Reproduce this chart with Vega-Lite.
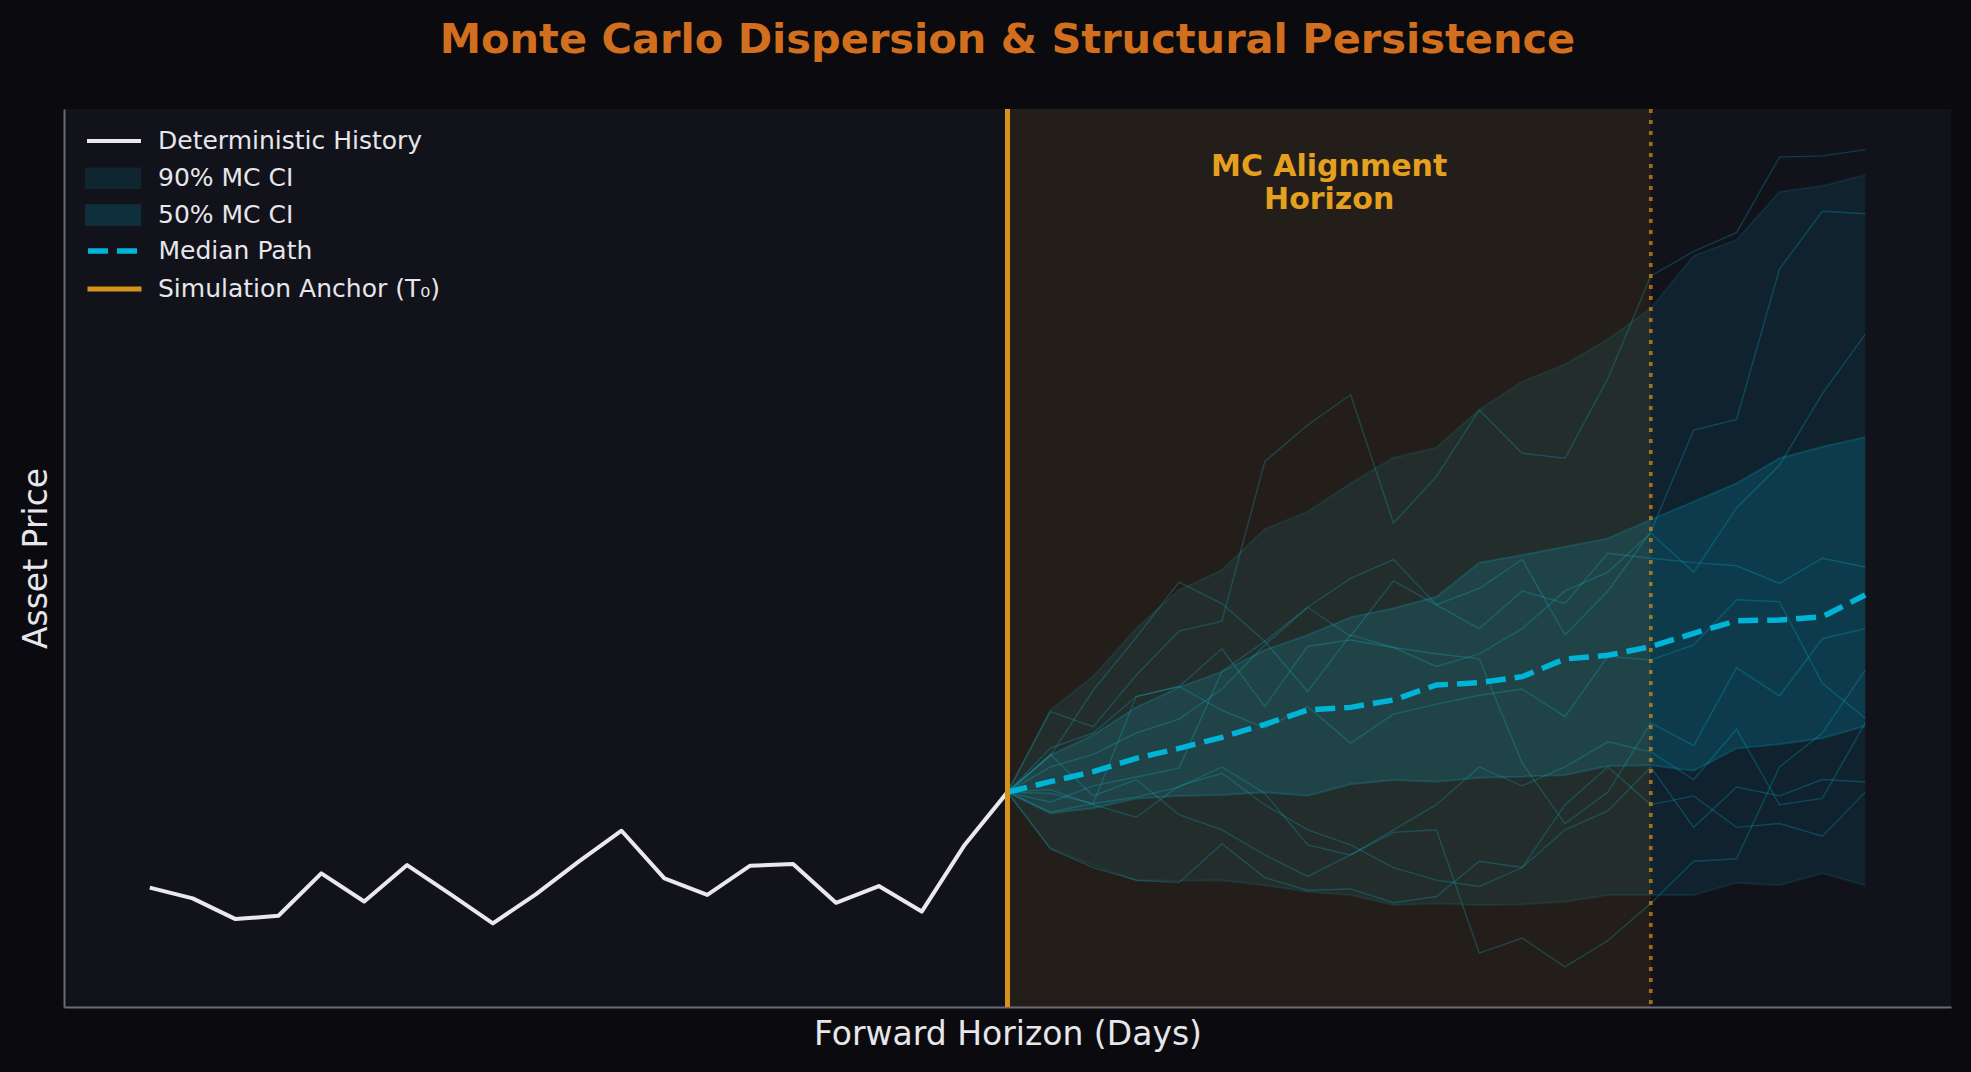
{
  "$schema": "https://vega.github.io/schema/vega-lite/v6.json",
  "width": 1887,
  "height": 898,
  "autosize": {"type": "none"},
  "padding": {"left": 64, "top": 109, "right": 20, "bottom": 65},
  "background": "#0b0b0f",
  "config": {
    "view": {"fill": "#12121a", "stroke": null},
    "font": "DejaVu Sans",
    "legend": {"title": null, "orient": "none", "legendX": 21, "padding": 0, "labelFont": "DejaVu Sans", "labelFontSize": 25, "labelColor": "#e6e6eb", "labelLimit": 700, "symbolSize": 2916, "labelOffset": 17, "clipHeight": 33}
  },
  "title": {"text": "Monte Carlo Dispersion & Structural Persistence", "fontSize": 41.5, "fontWeight": "bold", "color": "#d26f1e", "font": "DejaVu Sans", "anchor": "middle", "frame": "group", "baseline": "alphabetic", "offset": 12.2},
  "resolve": {"scale": {"color": "independent"}, "legend": {"color": "independent"}},
  "datasets": {
    "history": [
      {"t": -20, "price": 84.8}, {"t": -19, "price": 83.1}, {"t": -18, "price": 79.8}, {"t": -17, "price": 80.34},
      {"t": -16, "price": 87.08}, {"t": -15, "price": 82.6}, {"t": -14, "price": 88.4}, {"t": -13, "price": 83.8},
      {"t": -12, "price": 79.12}, {"t": -11, "price": 83.74}, {"t": -10, "price": 88.94}, {"t": -9, "price": 93.86},
      {"t": -8, "price": 86.28}, {"t": -7, "price": 83.64}, {"t": -6, "price": 88.3}, {"t": -5, "price": 88.56},
      {"t": -4, "price": 82.4}, {"t": -3, "price": 85.06}, {"t": -2, "price": 81.0}, {"t": -1, "price": 91.6},
      {"t": 0, "price": 100}
    ],
    "bands": [
      {"t": 0, "lo90": 100, "hi90": 100, "lo50": 100, "hi50": 100, "med": 100},
      {"t": 1, "lo90": 91.06, "hi90": 113.06, "lo50": 96.62, "hi50": 105.9, "med": 101.66},
      {"t": 2, "lo90": 88.4, "hi90": 118.4, "lo50": 97.42, "hi50": 109.08, "med": 103.26},
      {"t": 3, "lo90": 86.0, "hi90": 126.04, "lo50": 99.0, "hi50": 113.48, "med": 105.38},
      {"t": 4, "lo90": 85.9, "hi90": 132.14, "lo50": 99.4, "hi50": 116.66, "med": 106.96},
      {"t": 5, "lo90": 86.0, "hi90": 135.32, "lo50": 99.54, "hi50": 119.16, "med": 108.72},
      {"t": 6, "lo90": 85.2, "hi90": 141.84, "lo50": 99.96, "hi50": 122.6, "med": 110.78},
      {"t": 7, "lo90": 84.16, "hi90": 144.6, "lo50": 99.44, "hi50": 125.0, "med": 113.06},
      {"t": 8, "lo90": 83.62, "hi90": 149.12, "lo50": 101.24, "hi50": 127.8, "med": 113.48},
      {"t": 9, "lo90": 82.04, "hi90": 153.2, "lo50": 101.92, "hi50": 129.24, "med": 114.66},
      {"t": 10, "lo90": 82.3, "hi90": 154.8, "lo50": 101.66, "hi50": 131.08, "med": 117.04},
      {"t": 11, "lo90": 82.04, "hi90": 160.8, "lo50": 102.3, "hi50": 136.5, "med": 117.4},
      {"t": 12, "lo90": 82.14, "hi90": 165.28, "lo50": 102.46, "hi50": 137.72, "med": 118.36},
      {"t": 13, "lo90": 82.56, "hi90": 168.04, "lo50": 102.72, "hi50": 139.04, "med": 121.18},
      {"t": 14, "lo90": 83.62, "hi90": 172.02, "lo50": 104.16, "hi50": 140.36, "med": 121.76},
      {"t": 15, "lo90": 83.62, "hi90": 176.96, "lo50": 104.26, "hi50": 143.34, "med": 123.14},
      {"t": 16, "lo90": 83.62, "hi90": 185.32, "lo50": 103.4, "hi50": 146.2, "med": 125.26},
      {"t": 17, "lo90": 85.6, "hi90": 187.82, "lo50": 106.96, "hi50": 149.12, "med": 127.26},
      {"t": 18, "lo90": 85.2, "hi90": 195.5, "lo50": 107.6, "hi50": 153.1, "med": 127.38},
      {"t": 19, "lo90": 87.08, "hi90": 196.4, "lo50": 108.56, "hi50": 154.94, "med": 127.9},
      {"t": 20, "lo90": 85.2, "hi90": 198.16, "lo50": 110.52, "hi50": 156.44, "med": 131.36}
    ],
    "paths": [
      {"p": 1, "t": 0, "v": 100}, {"p": 1, "t": 1, "v": 112.8}, {"p": 1, "t": 2, "v": 110.4}, {"p": 1, "t": 3, "v": 118.6}, {"p": 1, "t": 4, "v": 125.6}, {"p": 1, "t": 5, "v": 127.2}, {"p": 1, "t": 6, "v": 152.6}, {"p": 1, "t": 7, "v": 158.4}, {"p": 1, "t": 8, "v": 163.2}, {"p": 1, "t": 9, "v": 142.8}, {"p": 1, "t": 10, "v": 150.2}, {"p": 1, "t": 11, "v": 160.8}, {"p": 1, "t": 12, "v": 153.9}, {"p": 1, "t": 13, "v": 153.1}, {"p": 1, "t": 14, "v": 165.8}, {"p": 1, "t": 15, "v": 182.1}, {"p": 1, "t": 16, "v": 186}, {"p": 1, "t": 17, "v": 189}, {"p": 1, "t": 18, "v": 201}, {"p": 1, "t": 19, "v": 201.2}, {"p": 1, "t": 20, "v": 202.2},
      {"p": 2, "t": 0, "v": 100}, {"p": 2, "t": 1, "v": 105.8}, {"p": 2, "t": 2, "v": 116.2}, {"p": 2, "t": 3, "v": 124.6}, {"p": 2, "t": 4, "v": 133.4}, {"p": 2, "t": 5, "v": 130}, {"p": 2, "t": 6, "v": 124}, {"p": 2, "t": 7, "v": 129.4}, {"p": 2, "t": 8, "v": 134}, {"p": 2, "t": 9, "v": 137}, {"p": 2, "t": 10, "v": 129.8}, {"p": 2, "t": 11, "v": 132.4}, {"p": 2, "t": 12, "v": 137}, {"p": 2, "t": 13, "v": 125}, {"p": 2, "t": 14, "v": 132}, {"p": 2, "t": 15, "v": 141.4}, {"p": 2, "t": 16, "v": 157.6}, {"p": 2, "t": 17, "v": 159.3}, {"p": 2, "t": 18, "v": 183.2}, {"p": 2, "t": 19, "v": 192.4}, {"p": 2, "t": 20, "v": 192},
      {"p": 3, "t": 0, "v": 100}, {"p": 3, "t": 1, "v": 107}, {"p": 3, "t": 2, "v": 109.4}, {"p": 3, "t": 3, "v": 115.2}, {"p": 3, "t": 4, "v": 116.8}, {"p": 3, "t": 5, "v": 122.8}, {"p": 3, "t": 6, "v": 113.6}, {"p": 3, "t": 7, "v": 123.2}, {"p": 3, "t": 8, "v": 124.2}, {"p": 3, "t": 9, "v": 123}, {"p": 3, "t": 10, "v": 120}, {"p": 3, "t": 11, "v": 122}, {"p": 3, "t": 12, "v": 126}, {"p": 3, "t": 13, "v": 132}, {"p": 3, "t": 14, "v": 135}, {"p": 3, "t": 15, "v": 141.2}, {"p": 3, "t": 16, "v": 135}, {"p": 3, "t": 17, "v": 145.2}, {"p": 3, "t": 18, "v": 152}, {"p": 3, "t": 19, "v": 163.4}, {"p": 3, "t": 20, "v": 172.8},
      {"p": 4, "t": 0, "v": 100}, {"p": 4, "t": 1, "v": 104}, {"p": 4, "t": 2, "v": 106}, {"p": 4, "t": 3, "v": 109.4}, {"p": 4, "t": 4, "v": 111.6}, {"p": 4, "t": 5, "v": 116.4}, {"p": 4, "t": 6, "v": 123.4}, {"p": 4, "t": 7, "v": 129.4}, {"p": 4, "t": 8, "v": 124.8}, {"p": 4, "t": 9, "v": 133.6}, {"p": 4, "t": 10, "v": 129.8}, {"p": 4, "t": 11, "v": 126}, {"p": 4, "t": 12, "v": 132}, {"p": 4, "t": 13, "v": 130}, {"p": 4, "t": 14, "v": 138}, {"p": 4, "t": 15, "v": 137.2}, {"p": 4, "t": 16, "v": 136.5}, {"p": 4, "t": 17, "v": 136}, {"p": 4, "t": 18, "v": 133.2}, {"p": 4, "t": 19, "v": 137.2}, {"p": 4, "t": 20, "v": 135.8},
      {"p": 5, "t": 0, "v": 100}, {"p": 5, "t": 1, "v": 96.8}, {"p": 5, "t": 2, "v": 98.2}, {"p": 5, "t": 3, "v": 115.2}, {"p": 5, "t": 4, "v": 116.8}, {"p": 5, "t": 5, "v": 113}, {"p": 5, "t": 6, "v": 110.2}, {"p": 5, "t": 7, "v": 113.6}, {"p": 5, "t": 8, "v": 107.8}, {"p": 5, "t": 9, "v": 112.4}, {"p": 5, "t": 10, "v": 114}, {"p": 5, "t": 11, "v": 115.4}, {"p": 5, "t": 12, "v": 116.4}, {"p": 5, "t": 13, "v": 112}, {"p": 5, "t": 14, "v": 121.6}, {"p": 5, "t": 15, "v": 121}, {"p": 5, "t": 16, "v": 123.4}, {"p": 5, "t": 17, "v": 130.6}, {"p": 5, "t": 18, "v": 130.3}, {"p": 5, "t": 19, "v": 117.3}, {"p": 5, "t": 20, "v": 111.8},
      {"p": 6, "t": 0, "v": 100}, {"p": 6, "t": 1, "v": 98.4}, {"p": 6, "t": 2, "v": 101}, {"p": 6, "t": 3, "v": 102.4}, {"p": 6, "t": 4, "v": 103.8}, {"p": 6, "t": 5, "v": 119.2}, {"p": 6, "t": 6, "v": 124}, {"p": 6, "t": 7, "v": 116}, {"p": 6, "t": 8, "v": 125}, {"p": 6, "t": 9, "v": 123}, {"p": 6, "t": 10, "v": 122}, {"p": 6, "t": 11, "v": 121.2}, {"p": 6, "t": 12, "v": 104.6}, {"p": 6, "t": 13, "v": 95}, {"p": 6, "t": 14, "v": 100}, {"p": 6, "t": 15, "v": 111}, {"p": 6, "t": 16, "v": 107.4}, {"p": 6, "t": 17, "v": 119.8}, {"p": 6, "t": 18, "v": 115.3}, {"p": 6, "t": 19, "v": 124.4}, {"p": 6, "t": 20, "v": 126},
      {"p": 7, "t": 0, "v": 100}, {"p": 7, "t": 1, "v": 99.8}, {"p": 7, "t": 2, "v": 98.2}, {"p": 7, "t": 3, "v": 99.2}, {"p": 7, "t": 4, "v": 100.8}, {"p": 7, "t": 5, "v": 104}, {"p": 7, "t": 6, "v": 99.8}, {"p": 7, "t": 7, "v": 91.6}, {"p": 7, "t": 8, "v": 90}, {"p": 7, "t": 9, "v": 93.6}, {"p": 7, "t": 10, "v": 94}, {"p": 7, "t": 11, "v": 74.4}, {"p": 7, "t": 12, "v": 76.8}, {"p": 7, "t": 13, "v": 72.2}, {"p": 7, "t": 14, "v": 76.4}, {"p": 7, "t": 15, "v": 82.3}, {"p": 7, "t": 16, "v": 89}, {"p": 7, "t": 17, "v": 89.4}, {"p": 7, "t": 18, "v": 104}, {"p": 7, "t": 19, "v": 109.4}, {"p": 7, "t": 20, "v": 119.4},
      {"p": 8, "t": 0, "v": 100}, {"p": 8, "t": 1, "v": 91}, {"p": 8, "t": 2, "v": 88}, {"p": 8, "t": 3, "v": 86}, {"p": 8, "t": 4, "v": 85.6}, {"p": 8, "t": 5, "v": 91.8}, {"p": 8, "t": 6, "v": 86.4}, {"p": 8, "t": 7, "v": 84.4}, {"p": 8, "t": 8, "v": 84.6}, {"p": 8, "t": 9, "v": 82.4}, {"p": 8, "t": 10, "v": 83.4}, {"p": 8, "t": 11, "v": 89}, {"p": 8, "t": 12, "v": 88}, {"p": 8, "t": 13, "v": 94}, {"p": 8, "t": 14, "v": 97}, {"p": 8, "t": 15, "v": 104}, {"p": 8, "t": 16, "v": 94.4}, {"p": 8, "t": 17, "v": 100.8}, {"p": 8, "t": 18, "v": 99.4}, {"p": 8, "t": 19, "v": 102}, {"p": 8, "t": 20, "v": 101.6},
      {"p": 9, "t": 0, "v": 100}, {"p": 9, "t": 1, "v": 100.4}, {"p": 9, "t": 2, "v": 98}, {"p": 9, "t": 3, "v": 96}, {"p": 9, "t": 4, "v": 101}, {"p": 9, "t": 5, "v": 103}, {"p": 9, "t": 6, "v": 98}, {"p": 9, "t": 7, "v": 94}, {"p": 9, "t": 8, "v": 91.6}, {"p": 9, "t": 9, "v": 88}, {"p": 9, "t": 10, "v": 86}, {"p": 9, "t": 11, "v": 85}, {"p": 9, "t": 12, "v": 88}, {"p": 9, "t": 13, "v": 98}, {"p": 9, "t": 14, "v": 104}, {"p": 9, "t": 15, "v": 98}, {"p": 9, "t": 16, "v": 99.4}, {"p": 9, "t": 17, "v": 94.4}, {"p": 9, "t": 18, "v": 95}, {"p": 9, "t": 19, "v": 93}, {"p": 9, "t": 20, "v": 100},
      {"p": 10, "t": 0, "v": 100}, {"p": 10, "t": 1, "v": 106}, {"p": 10, "t": 2, "v": 99.4}, {"p": 10, "t": 3, "v": 102}, {"p": 10, "t": 4, "v": 96.4}, {"p": 10, "t": 5, "v": 94}, {"p": 10, "t": 6, "v": 90}, {"p": 10, "t": 7, "v": 86.6}, {"p": 10, "t": 8, "v": 90}, {"p": 10, "t": 9, "v": 94}, {"p": 10, "t": 10, "v": 98}, {"p": 10, "t": 11, "v": 104}, {"p": 10, "t": 12, "v": 101}, {"p": 10, "t": 13, "v": 104}, {"p": 10, "t": 14, "v": 108}, {"p": 10, "t": 15, "v": 106.4}, {"p": 10, "t": 16, "v": 102}, {"p": 10, "t": 17, "v": 110}, {"p": 10, "t": 18, "v": 98}, {"p": 10, "t": 19, "v": 99}, {"p": 10, "t": 20, "v": 111}
    ]
  },
  "layer": [
    {
      "data": {"name": "bands"},
      "mark": {"type": "area", "opacity": 0.1},
      "encoding": {
        "x": {"field": "t", "type": "quantitative", "scale": {"domain": [-22, 22], "nice": false, "zero": false},
          "axis": {"title": "Forward Horizon (Days)", "labels": false, "ticks": false, "grid": false, "domain": true, "domainColor": "#6b6b78", "domainWidth": 2, "titleFontSize": 33, "titleColor": "#e6e6eb", "titleFontWeight": "normal", "titleFont": "DejaVu Sans", "titlePadding": 11}},
        "y": {"field": "lo90", "type": "quantitative", "scale": {"domain": [65.82, 208.66], "nice": false, "zero": false},
          "axis": {"title": "Asset Price", "labels": false, "ticks": false, "grid": false, "domain": true, "domainColor": "#6b6b78", "domainWidth": 2, "titleFontSize": 33, "titleColor": "#e6e6eb", "titleFontWeight": "normal", "titleFont": "DejaVu Sans", "titlePadding": 11}},
        "y2": {"field": "hi90"},
        "color": {"datum": "90% MC CI", "type": "nominal", "scale": {"domain": ["90% MC CI"], "range": ["#00b4d8"]},
          "legend": {"legendY": 52.8, "symbolType": "M-1,-0.36H1V0.36H-1Z", "symbolStrokeColor": "#00b4d8", "symbolStrokeWidth": 2, "symbolOpacity": 0.12}}
      }
    },
    {
      "data": {"name": "bands"},
      "mark": {"type": "area", "opacity": 0.18},
      "encoding": {
        "x": {"field": "t", "type": "quantitative"},
        "y": {"field": "lo50", "type": "quantitative"},
        "y2": {"field": "hi50"},
        "color": {"datum": "50% MC CI", "type": "nominal", "scale": {"domain": ["50% MC CI"], "range": ["#00b4d8"]},
          "legend": {"legendY": 89.5, "symbolType": "M-1,-0.36H1V0.36H-1Z", "symbolStrokeColor": "#00b4d8", "symbolStrokeWidth": 2, "symbolOpacity": 0.18}}
      }
    },
    {
      "data": {"name": "bands"},
      "mark": {"type": "line", "color": "#00b4d8", "opacity": 0.12, "strokeWidth": 2},
      "encoding": {"x": {"field": "t", "type": "quantitative"}, "y": {"field": "hi90", "type": "quantitative"}}
    },
    {
      "data": {"name": "bands"},
      "mark": {"type": "line", "color": "#00b4d8", "opacity": 0.12, "strokeWidth": 2},
      "encoding": {"x": {"field": "t", "type": "quantitative"}, "y": {"field": "lo90", "type": "quantitative"}}
    },
    {
      "data": {"name": "bands"},
      "mark": {"type": "line", "color": "#00b4d8", "opacity": 0.2, "strokeWidth": 2},
      "encoding": {"x": {"field": "t", "type": "quantitative"}, "y": {"field": "hi50", "type": "quantitative"}}
    },
    {
      "data": {"name": "bands"},
      "mark": {"type": "line", "color": "#00b4d8", "opacity": 0.2, "strokeWidth": 2},
      "encoding": {"x": {"field": "t", "type": "quantitative"}, "y": {"field": "lo50", "type": "quantitative"}}
    },
    {
      "data": {"name": "paths"},
      "mark": {"type": "line", "color": "#00b4d8", "opacity": 0.27, "strokeWidth": 1.4},
      "encoding": {"x": {"field": "t", "type": "quantitative"}, "y": {"field": "v", "type": "quantitative"}, "detail": {"field": "p", "type": "nominal"}}
    },
    {
      "data": {"values": [{"start": 0, "end": 15}]},
      "mark": {"type": "rect", "color": "#e6a020", "opacity": 0.085},
      "encoding": {"x": {"field": "start", "type": "quantitative"}, "x2": {"field": "end"}, "y": {"datum": 65.82, "type": "quantitative"}, "y2": {"datum": 208.66}}
    },
    {
      "data": {"name": "bands"},
      "mark": {"type": "line", "strokeWidth": 5.5, "strokeDash": [20, 9]},
      "encoding": {"x": {"field": "t", "type": "quantitative"}, "y": {"field": "med", "type": "quantitative"},
        "color": {"datum": "Median Path", "type": "nominal", "scale": {"domain": ["Median Path"], "range": ["#00b4d8"]},
          "legend": {"legendY": 125.5, "symbolType": "stroke", "symbolStrokeWidth": 5.5, "symbolDash": [20, 9], "labelOffset": 13.5}}}
    },
    {
      "data": {"name": "history"},
      "mark": {"type": "line", "strokeWidth": 4, "strokeJoin": "round"},
      "encoding": {"x": {"field": "t", "type": "quantitative"}, "y": {"field": "price", "type": "quantitative"},
        "color": {"datum": "Deterministic History", "type": "nominal", "scale": {"domain": ["Deterministic History"], "range": ["#e8e8ee"]},
          "legend": {"legendY": 15.5, "symbolType": "stroke", "symbolStrokeWidth": 4, "labelOffset": 15}}}
    },
    {
      "data": {"values": [{"t": 0}]},
      "mark": {"type": "rule", "strokeWidth": 5},
      "encoding": {"x": {"field": "t", "type": "quantitative"},
        "color": {"datum": "Simulation Anchor (T₀)", "type": "nominal", "scale": {"domain": ["Simulation Anchor (T₀)"], "range": ["#d6921c"]},
          "legend": {"legendY": 163.5, "symbolType": "stroke", "symbolStrokeWidth": 5, "labelOffset": 14}}}
    },
    {
      "data": {"values": [{"t": 15}]},
      "mark": {"type": "rule", "strokeWidth": 3.7, "strokeDash": [4, 7], "color": "#d6921c", "opacity": 0.7},
      "encoding": {"x": {"field": "t", "type": "quantitative"}}
    },
    {
      "data": {"values": [{"t": 7.5, "label": "MC Alignment Horizon"}]},
      "mark": {"type": "text", "text": ["MC Alignment", "Horizon"], "align": "center", "baseline": "alphabetic", "fontSize": 30, "fontWeight": "bold", "color": "#e5a020", "lineHeight": 33.3, "font": "DejaVu Sans"},
      "encoding": {"x": {"field": "t", "type": "quantitative"}, "y": {"datum": 198.0, "type": "quantitative"}}
    }
  ]
}
